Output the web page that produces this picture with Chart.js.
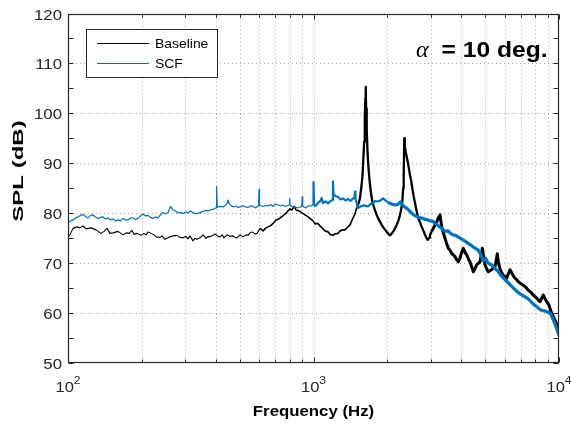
<!DOCTYPE html>
<html><head><meta charset="utf-8">
<script src="https://cdn.jsdelivr.net/npm/chart.js@4.4.1/dist/chart.umd.min.js"></script>
<style>html,body{margin:0;padding:0;background:#fff;}canvas{display:block;}</style>
</head><body>
<canvas id="c" width="571" height="425"></canvas>
<script>
// ---- data: [frequency Hz, SPL dB] ----
const baseline = [[100,75.2],[101.9,75.6],[104.8,76.9],[108.8,77.2],[111.9,77.0],[115.1,77.4],[118.4,76.8],[124.0,77.0],[130.0,76.6],[136.3,75.9],[140.2,76.3],[144.2,76.9],[148.2,75.9],[152.5,76.0],[159.8,76.3],[164.4,75.9],[167.5,75.6],[172.3,76.0],[177.3,75.9],[182.3,76.5],[185.7,75.7],[191.0,75.9],[198.3,75.5],[204.0,75.9],[207.9,75.6],[211.8,76.2],[217.9,75.9],[224.1,75.6],[228.3,75.2],[237.0,75.1],[241.5,75.4],[248.4,74.7],[255.5,75.0],[260.3,75.2],[267.8,75.4],[278.0,75.5],[285.9,75.1],[294.1,75.0],[302.5,75.3],[308.2,74.8],[314.0,75.4],[323.0,74.4],[329.1,74.9],[335.3,74.7],[344.9,75.0],[354.8,75.6],[364.9,74.9],[371.8,75.3],[378.8,75.2],[389.7,75.5],[397.1,75.8],[408.4,75.3],[416.1,75.2],[424.0,75.6],[432.0,75.0],[444.3,75.6],[457.0,75.3],[470.1,75.4],[479.0,75.1],[488.0,75.0],[501.9,75.6],[516.3,75.2],[531.0,75.6],[541.1,75.5],[551.3,76.0],[561.8,76.2],[577.8,75.8],[588.8,75.9],[605.5,76.9],[622.8,76.4],[640.6,77.0],[652.7,77.2],[671.4,77.5],[684.1,77.9],[703.6,78.6],[723.6,78.8],[744.3,79.3],[772.7,79.9],[780.1,80.2],[802.3,80.8],[817.5,80.6],[833.0,81.3],[848.7,80.6],[873.0,80.4],[897.9,80.0],[923.5,79.6],[949.9,79.2],[967.9,78.9],[995.5,78.4],[1014,77.8],[1043,77.9],[1063,77.4],[1093,76.8],[1114,76.4],[1146,76.2],[1168,75.7],[1201,75.5],[1224,75.8],[1259,75.9],[1283,76.4],[1319,76.6],[1344,76.6],[1382,77.2],[1408,77.6],[1449,79.0],[1476,79.8],[1490,80.6],[1525,81.8],[1547,83.0],[1569,85.5],[1584,87.6],[1598,91.5],[1609,94.3],[1618,99.0],[1626,103.0],[1632,105.3],[1638,101.0],[1647,97.0],[1659,92.5],[1672,89.6],[1686,87.3],[1699,85.6],[1715,84.0],[1736,82.3],[1772,80.8],[1809,79.6],[1848,78.6],[1896,77.6],[1937,76.9],[1987,76.2],[2020,75.8],[2049,75.5],[2079,75.8],[2114,76.3],[2148,76.9],[2182,77.6],[2219,78.5],[2251,79.6],[2278,80.8],[2300,82.3],[2319,85.0],[2330,87.6],[2343,95.0],[2354,93.5],[2374,92.3],[2394,91.4],[2419,90.3],[2449,88.8],[2472,87.6],[2500,86.4],[2526,85.0],[2557,83.4],[2591,82.0],[2633,80.3],[2672,78.9],[2715,78.1],[2759,77.2],[2801,76.5],[2846,75.6],[2886,75.0],[2919,74.6],[2955,75.0],[2982,75.6],[3030,76.3],[3076,76.9],[3125,77.6],[3176,78.2],[3224,79.0],[3276,79.6],[3328,77.2],[3378,76.0],[3433,74.9],[3488,73.8],[3541,72.9],[3598,72.5],[3655,71.9],[3710,71.6],[3770,71.2],[3831,70.6],[3889,70.2],[3940,70.8],[3988,71.6],[4034,72.4],[4075,72.9],[4141,72.1],[4207,71.6],[4271,70.8],[4339,70.2],[4410,69.2],[4477,68.2],[4548,68.8],[4621,69.6],[4691,69.9],[4766,70.2],[4825,71.6],[4871,72.9],[4931,71.2],[4996,69.6],[5076,68.8],[5152,68.2],[5235,68.4],[5320,68.6],[5400,69.0],[5487,69.2],[5549,70.5],[5606,71.8],[5670,70.0],[5750,68.8],[5842,68.0],[5931,67.5],[6026,67.2],[6123,66.9],[6215,67.8],[6315,68.6],[6417,68.0],[6514,67.4],[6619,66.9],[6725,66.6],[6827,66.2],[6937,65.9],[7049,65.7],[7155,65.5],[7270,65.2],[7386,64.9],[7498,64.5],[7618,64.2],[7741,63.9],[7858,63.5],[7984,63.2],[8112,62.9],[8235,62.5],[8367,62.2],[8503,62.9],[8631,63.5],[8770,62.8],[8911,62.2],[9020,61.8],[9105,61.5],[9234,60.5],[9338,59.9],[9480,59.2],[9632,58.5],[9769,57.8],[9879,57.2],[10000,56.9]];

const scf = [[100,78.0],[102.4,78.4],[104.8,78.6],[107.3,79.0],[109.8,79.2],[112.4,79.5],[115.1,79.7],[117.8,79.3],[120.6,79.0],[123.5,79.5],[126.4,79.6],[129.4,79.2],[132.5,78.9],[135.6,79.1],[138.9,79.2],[142.2,78.8],[145.5,79.0],[149.0,78.6],[152.5,78.8],[156.1,78.4],[159.8,78.6],[163.6,78.4],[167.5,78.9],[171.5,78.6],[175.6,78.6],[179.8,79.0],[184.0,79.0],[188.4,78.7],[192.8,78.9],[197.4,79.4],[202.1,79.8],[206.9,79.4],[211.8,79.5],[216.8,79.1],[222.0,78.9],[227.3,79.2],[232.6,79.0],[238.1,79.6],[243.8,80.1],[249.6,79.8],[255.5,80.1],[261.6,81.3],[267.8,80.6],[274.1,80.4],[280.6,80.0],[287.3,80.1],[294.1,79.9],[301.1,80.2],[308.2,80.0],[315.5,80.4],[323.0,80.1],[330.7,79.8],[338.5,79.9],[346.5,80.1],[354.8,80.3],[363.2,80.5],[371.8,80.4],[380.6,80.6],[389.7,80.7],[398.9,81.0],[401,81.0],[403,85.3],[405.5,81.1],[408.4,81.2],[418.1,81.3],[428.0,81.2],[438.2,81.6],[444,81.8],[448.5,82.6],[453,81.9],[459.1,81.6],[470.1,81.2],[481.2,81.4],[492.6,81.1],[504.3,81.2],[516.3,81.5],[528.5,81.2],[541.1,81.1],[553.9,81.4],[567.1,81.3],[580.5,81.0],[594.3,81.4],[597.5,81.6],[600,84.8],[602.5,81.6],[608.4,81.5],[622.8,81.3],[637.6,81.5],[652.7,81.4],[668.2,81.7],[684.1,81.3],[700.3,81.8],[716.9,81.6],[733.9,81.4],[751.3,81.6],[769.1,81.3],[787.4,81.5],[797,81.6],[800,82.8],[803,81.6],[825.2,81.1],[844.8,81.2],[864.8,81.0],[885.3,81.2],[896,81.4],[900,83.3],[904,81.4],[927.9,81.0],[949.9,81.4],[972.4,81.4],[995,81.6],[1000,86.3],[1005,81.6],[1019,81.4],[1043,82.0],[1068,82.4],[1080,83.0],[1093,82.0],[1119,82.3],[1146,81.9],[1173,82.4],[1195,82.6],[1200,86.3],[1206,83.8],[1229,83.4],[1259,83.2],[1289,82.7],[1319,82.9],[1350,82.5],[1382,82.8],[1415,82.4],[1449,82.9],[1470,83.2],[1476,84.3],[1482,82.8],[1500,82.0],[1518,81.0],[1554,81.3],[1591,81.5],[1629,81.4],[1667,81.3],[1707,81.8],[1747,82.0],[1788,82.4],[1831,82.3],[1874,82.5],[1919,82.9],[1964,82.5],[2011,82.1],[2059,81.9],[2108,81.7],[2158,81.6],[2209,81.7],[2261,82.2],[2315,81.5],[2370,81.1],[2426,80.7],[2483,80.2],[2543,79.7],[2603,79.4],[2665,79.2],[2728,79.0],[2793,78.9],[2859,78.7],[2927,78.6],[2996,78.4],[3067,78.3],[3140,77.9],[3215,77.5],[3291,77.1],[3369,76.6],[3449,76.3],[3531,76.4],[3615,75.9],[3700,75.6],[3788,75.5],[3878,75.2],[3970,74.9],[4064,74.6],[4160,74.3],[4259,73.9],[4360,73.6],[4464,73.2],[4570,72.9],[4678,72.6],[4789,71.8],[4903,70.4],[5019,70.9],[5138,70.0],[5260,69.7],[5385,69.3],[5513,68.8],[5643,68.3],[5777,67.6],[5914,67.0],[6054,66.5],[6198,66.0],[6345,65.5],[6496,65.0],[6650,64.5],[6808,64.1],[6969,63.7],[7135,63.4],[7304,63.1],[7477,62.8],[7654,62.3],[7836,61.8],[8022,61.4],[8212,61.0],[8407,60.6],[8607,60.4],[8811,60.3],[9020,60.1],[9234,59.8],[9453,58.7],[9677,57.5],[9907,56.0],[10000,55.5]];

const seriesNames = ['Baseline', 'SCF'];
const yTicks = [50, 60, 70, 80, 90, 100, 110, 120];
const yMinorTicks = [55, 65, 75, 85, 95, 105, 115];
const xDecades = [2, 3, 4];
const xMinorMult = [2, 3, 4, 5, 6, 7, 8, 9];
const annotationSymbol = 'α';
const annotationText = '= 10 deg.';
const xTitle = 'Frequency (Hz)';
const yTitle = 'SPL (dB)';

// ---- style ----
const INK = '#262626';
const SANS = '"Liberation Sans", Arial, sans-serif';

function drawText(ctx, text, x, y, font, sx, align) {
  ctx.save();
  ctx.font = font;
  const w = ctx.measureText(text).width;
  ctx.translate(x, y);
  ctx.scale(sx, 1);
  const dx = align === 'right' ? -w : align === 'center' ? -w / 2 : 0;
  ctx.fillText(text, dx, 0);
  ctx.restore();
  return w * sx;
}

function widthBaseline(f) { return f < 600 ? 1.1 : f < 1500 ? 1.6 : f < 3000 ? 2.3 : 3.0; }
function widthSCF(f) { return f < 1000 ? 1.2 : f < 2000 ? 2.2 : 3.2; }

const decor = {
  id: 'decor',
  beforeDatasetsDraw(chart) {
    const { ctx, chartArea: a, scales: { x, y } } = chart;
    ctx.save();
    ctx.strokeStyle = 'rgba(38,38,38,0.42)';
    ctx.lineWidth = 1;
    ctx.setLineDash([1, 3]);
    const xs = [];
    for (const d of xDecades) { xs.push(Math.pow(10, d)); if (d < 4) for (const m of xMinorMult) xs.push(m * Math.pow(10, d)); }
    for (const v of xs) {
      const px = Math.round(x.getPixelForValue(v)) + 0.5;
      if (px < a.left + 1 || px > a.right - 1) continue;
      ctx.beginPath(); ctx.moveTo(px, a.top); ctx.lineTo(px, a.bottom); ctx.stroke();
    }
    for (const v of yTicks) {
      const py = Math.round(y.getPixelForValue(v)) + 0.5;
      if (py < a.top + 1 || py > a.bottom - 1) continue;
      ctx.beginPath(); ctx.moveTo(a.left, py); ctx.lineTo(a.right, py); ctx.stroke();
    }
    ctx.restore();
  },
  afterDatasetsDraw(chart) {
    const { ctx, chartArea: a, scales: { x, y } } = chart;
    ctx.save();
    ctx.strokeStyle = INK; ctx.lineWidth = 1.2; ctx.setLineDash([]);
    const L = Math.round(a.left) + 0.5, R = Math.round(a.right) - 0.5, T = Math.round(a.top) + 0.5, B = Math.round(a.bottom) - 0.5;
    ctx.strokeRect(L, T, R - L, B - T);
    ctx.lineWidth = 1;
    ctx.beginPath();
    for (const v of yTicks.concat(yMinorTicks)) {
      const py = Math.round(y.getPixelForValue(v)) + 0.5;
      ctx.moveTo(L, py); ctx.lineTo(L + 5, py);
      ctx.moveTo(R, py); ctx.lineTo(R - 5, py);
    }
    for (const d of xDecades) {
      const px = Math.round(x.getPixelForValue(Math.pow(10, d))) + 0.5;
      ctx.moveTo(px, B); ctx.lineTo(px, B - 5);
      ctx.moveTo(px, T); ctx.lineTo(px, T + 5);
      if (d < 4) for (const m of xMinorMult) {
        const pm = Math.round(x.getPixelForValue(m * Math.pow(10, d))) + 0.5;
        ctx.moveTo(pm, B); ctx.lineTo(pm, B - 3);
        ctx.moveTo(pm, T); ctx.lineTo(pm, T + 3);
      }
    }
    ctx.stroke();
    ctx.fillStyle = INK; ctx.textBaseline = 'alphabetic';
    for (const v of yTicks) {
      drawText(ctx, String(v), 62, y.getPixelForValue(v) + 6, '14px ' + SANS, 1.2, 'right');
    }
    for (const d of xDecades) {
      const px = x.getPixelForValue(Math.pow(10, d));
      ctx.font = '15px ' + SANS;
      const wb = ctx.measureText('10').width * 1.1;
      ctx.font = '11px ' + SANS;
      const we = ctx.measureText(String(d)).width * 1.1;
      const x0 = px - (wb + we) / 2;
      drawText(ctx, '10', x0, 392, '15px ' + SANS, 1.1, 'left');
      drawText(ctx, String(d), x0 + wb, 384, '11px ' + SANS, 1.1, 'left');
    }
    ctx.fillStyle = '#000';
    drawText(ctx, xTitle, (a.left + a.right) / 2, 416, 'bold 14px ' + SANS, 1.2, 'center');
    ctx.save();
    ctx.translate(23, 171); ctx.rotate(-Math.PI / 2);
    drawText(ctx, yTitle, 0, 0, 'bold 15px ' + SANS, 1.6, 'center');
    ctx.restore();
    ctx.fillStyle = '#fff';
    ctx.fillRect(86.5, 29.5, 131, 48);
    ctx.strokeStyle = INK; ctx.lineWidth = 1; ctx.strokeRect(86.5, 29.5, 131, 48);
    const colors = ['#000000', '#0072BD'];
    const ly = [43.5, 63.5];
    for (let i = 0; i < 2; i++) {
      ctx.strokeStyle = colors[i]; ctx.lineWidth = 1.2;
      ctx.beginPath(); ctx.moveTo(97, ly[i]); ctx.lineTo(149, ly[i]); ctx.stroke();
      ctx.fillStyle = '#000';
      drawText(ctx, seriesNames[i], 155, ly[i] + 4.5, '13px ' + SANS, 1.07, 'left');
    }
    ctx.fillStyle = '#000';
    drawText(ctx, annotationSymbol, 416, 57, 'italic 24px "Liberation Serif", "DejaVu Serif", serif', 1.0, 'left');
    drawText(ctx, annotationText, 441.5, 57, 'bold 22px ' + SANS, 1.12, 'left');
    ctx.restore();
  }
};

new Chart(document.getElementById('c'), {
  type: 'line',
  data: {
    datasets: [
      { label: seriesNames[0], data: baseline.map(p => ({ x: p[0], y: p[1] })), borderColor: '#000000', borderWidth: 1.1, pointRadius: 0, tension: 0, order: 1,
        borderJoinStyle: 'round', segment: { borderWidth: c => widthBaseline(c.p0.parsed.x) } },
      { label: seriesNames[1], data: scf.map(p => ({ x: p[0], y: p[1] })), borderColor: '#0072BD', borderWidth: 1.2, pointRadius: 0, tension: 0, order: 0,
        borderJoinStyle: 'round', segment: { borderWidth: c => widthSCF(c.p0.parsed.x) } }
    ]
  },
  options: {
    responsive: false, animation: false,
    layout: { padding: { top: 13.5, right: 12, left: 0, bottom: 0 } },
    plugins: { legend: { display: false }, tooltip: { enabled: false } },
    scales: {
      x: { type: 'logarithmic', min: 100, max: 10000, grid: { display: false }, border: { display: false }, ticks: { display: false },
           afterFit(s) { s.height = 62.5; } },
      y: { type: 'linear', min: 50, max: 120, grid: { display: false }, border: { display: false }, ticks: { display: false },
           afterFit(s) { s.width = 68; } }
    }
  },
  plugins: [decor]
});
</script>
</body></html>
